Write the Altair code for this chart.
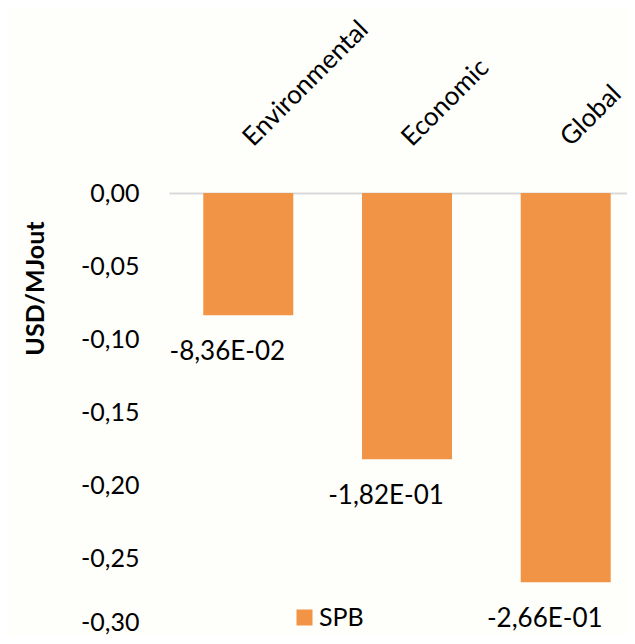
import altair as alt
import pandas as pd

categories = ["Environmental", "Economic", "Global"]
values = [-0.0836, -0.182, -0.266]
value_labels = ["-8,36E-02", "-1,82E-01", "-2,66E-01"]
series = ["SPB", "SPB", "SPB"]
y_ticks = [0.0, -0.05, -0.10, -0.15, -0.20, -0.25, -0.30]

df = pd.DataFrame({"cat": categories, "val": values, "lab": value_labels, "series": series})

FONT = "Lato"
ORANGE = "#F29445"

x_enc = alt.X(
    "cat:N",
    sort=categories,
    scale=alt.Scale(paddingInner=0.433, paddingOuter=0.216, range=[0, 476]),
    axis=alt.Axis(
        orient="top", title=None, labelAngle=-45, labelAlign="left",
        labelBaseline="alphabetic", labelPadding=46, labelOffset=5, ticks=False,
        domain=True, domainColor="#D9D9D9", domainWidth=2,
        labelFont=FONT, labelFontSize=26, labelColor="#000000",
    ),
)
y_enc = alt.Y(
    "val:Q",
    scale=alt.Scale(domain=[-0.30, 0.0], nice=False, zero=False),
    axis=alt.Axis(
        values=y_ticks, grid=False, domain=False, ticks=False,
        labelExpr="(datum.value < -0.0001 ? '-' : '') + replace(format(abs(datum.value), '.2f'), '.', ',')",
        labelFont=FONT, labelFontSize=25, labelColor="#000000", labelPadding=30,
        labelOffset={"condition": {"test": "datum.value < -0.29", "value": -10}, "value": 0},
        title="USD/MJout", titleFont=FONT, titleFontSize=25, titleFontWeight="bold",
        titleColor="#000000", titleAngle=-90, titleX=-134, titleY=95,
        titleAlign="center", titleBaseline="middle",
    ),
)

bars = alt.Chart(df).mark_bar(color=ORANGE).encode(
    x=x_enc,
    y=y_enc,
    color=alt.Color(
        "series:N",
        scale=alt.Scale(range=[ORANGE]),
        legend=alt.Legend(
            title=None, orient="none", legendX=123, legendY=412,
            symbolType="square", symbolSize=256, symbolStrokeWidth=0,
            labelFont=FONT, labelFontSize=25, labelColor="#000000",
            labelOffset=2,
        ),
    ),
)

labels = alt.Chart(df).mark_text(
    font=FONT, fontSize=26, color="#000000", align="center",
    baseline="middle", dx=-21, dy=37,
).encode(
    x=alt.X("cat:N", sort=categories),
    y=alt.Y("val:Q"),
    text="lab:N",
)

chart = alt.layer(bars, labels).properties(
    width=458, height=439,
    background="#FEFEFB",
    autosize=alt.AutoSizeParams(type="none"),
    padding={"left": 161, "top": 185, "right": 0, "bottom": 4},
).configure_view(stroke=None)

chart.save("out.html", embed_options={"renderer": "svg", "actions": False})
